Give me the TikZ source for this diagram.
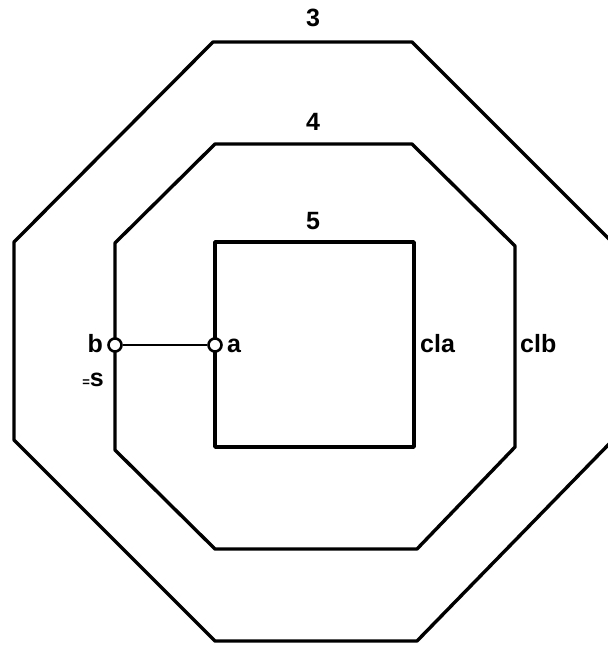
\documentclass[tikz,border=0pt]{standalone}
\usepackage{fontspec}
\setmainfont{Liberation Sans}
\begin{document}
\begin{tikzpicture}[x=1pt,y=-1pt,
  ring/.style={line width=3.4pt,line join=round},
  lbl/.style={font=\bfseries\fontsize{25}{27}\selectfont,inner sep=0pt},
  port/.style={circle,draw,line width=2.6pt,fill=white,minimum size=13pt,inner sep=0pt}]
\useasboundingbox (0,0) rectangle (608,646);
% outer octagon
\draw[ring] (213,42) -- (412,42) -- (611,241) -- (611,442) -- (417,641) -- (215,641) -- (14,440) -- (14,242) -- cycle;
% middle octagon
\draw[ring] (215,144) -- (412,144) -- (515,246) -- (515,447) -- (417,549) -- (215,549) -- (115,450) -- (115,243) -- cycle;
% inner square
\draw[ring] (215,242) rectangle (414,447);
% labels
\node[lbl] (n3) at (313,18) {3};
\node[lbl] (n4) at (313,122) {4};
\node[lbl] (n5) at (313,221) {5};
% ports
\node[port] (b) at (115,345) {};
\node[port] (a) at (215,345) {};
\draw[line width=2pt] (b) -- (a);
\node[lbl,anchor=base east] (lb) at (103,352) {b};
\node[lbl,anchor=base west] (la) at (227,352) {a};
\node[lbl,anchor=base east] (ls) at (104,386) {{\fontsize{13}{13}\selectfont=}s};
\node[lbl,anchor=base west] (lca) at (420,352) {cla};
\node[lbl,anchor=base west] (lcb) at (520,352) {clb};
\end{tikzpicture}
\end{document}
